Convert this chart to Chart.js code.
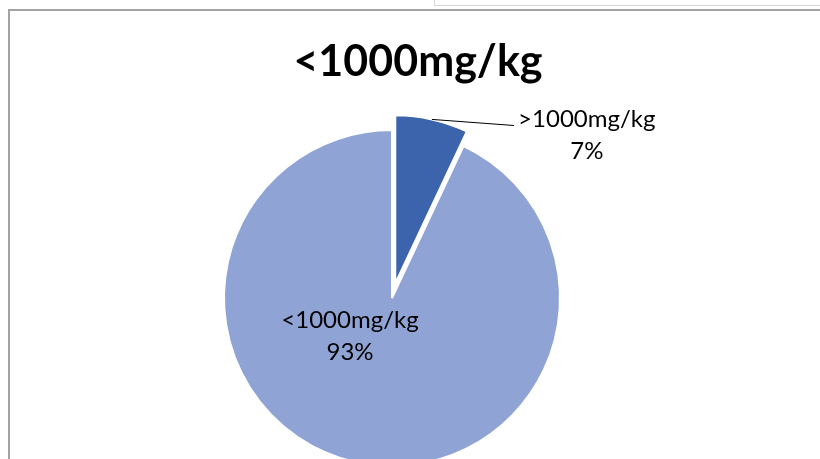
<!DOCTYPE html>
<html>
<head>
<meta charset="utf-8">
<script src="https://cdn.jsdelivr.net/npm/chart.js@4.4.1/dist/chart.umd.min.js"></script>
<style>
  html, body { margin: 0; padding: 0; background: #fff; width: 820px; height: 459px; overflow: hidden; }
  #sheetTab { position: absolute; left: 434px; top: -6px; width: 500px; height: 10px; border: 1px solid #d6d6d6; background: #fff; }
  #frame { position: absolute; left: 8px; top: 9px; width: 900px; height: 600px; border-left: 2px solid #a3a3a3; border-top: 2px solid #a3a3a3; }
  #holder { position: absolute; left: 0; top: 0; width: 820px; height: 520px; }
</style>
</head>
<body>
<div id="sheetTab"></div>
<div id="frame"></div>
<div id="holder"><canvas id="pie" width="820" height="520"></canvas></div>
<script>
// Share of samples by concentration class
const categories = ['>1000mg/kg', '<1000mg/kg'];
const shares = [7, 93];
const chartTitle = '<1000mg/kg';

const FONT = 'Lato, "Open Sans", sans-serif';

// Explodes selected slices and writes the heading and slice labels
const pieAnnotations = {
  id: 'pieAnnotations',
  afterDatasetsUpdate(chart, args, opts) {
    const arcs = chart.getDatasetMeta(0).data;
    arcs.forEach((arc, i) => {
      const d = (opts.explode || [])[i] || 0;
      if (!d) return;
      const mid = (arc.startAngle + arc.endAngle) / 2;
      arc.x += Math.cos(mid) * d;
      arc.y += Math.sin(mid) * d;
    });
  },
  afterDraw(chart, args, opts) {
    const ctx = chart.ctx;
    const arcs = chart.getDatasetMeta(0).data;
    const values = chart.data.datasets[0].data;
    const area = chart.chartArea;
    ctx.save();
    ctx.textAlign = 'center';
    ctx.textBaseline = 'middle';

    ctx.fillStyle = '#000';
    ctx.font = opts.titleFont;
    ctx.fillText(opts.title, (area.left + area.right) / 2 + opts.titleShift, opts.titleY);

    ctx.font = opts.labelFont;
    ctx.fillStyle = '#000';
    arcs.forEach((arc, i) => {
      const p = opts.placement[i];
      const r = arc.outerRadius;
      const cx = arc.x + p.dx * r;
      const cy = arc.y + p.dy * r;
      const lines = [chart.data.labels[i], values[i] + '%'];
      const lh = opts.lineHeight;
      lines.forEach((t, k) => ctx.fillText(t, cx, cy + (k - (lines.length - 1) / 2) * lh));
      if (p.leader) {
        const mid = (arc.startAngle + arc.endAngle) / 2;
        const sx = arc.x + Math.cos(mid) * r;
        const sy = arc.y + Math.sin(mid) * r;
        const w = ctx.measureText(lines[0]).width;
        const ex = cx - w / 2 - 4;
        const ey = cy - lh / 2 + 6;
        ctx.beginPath();
        ctx.moveTo(sx, sy);
        ctx.lineTo(ex, ey);
        ctx.strokeStyle = '#000';
        ctx.lineWidth = 1;
        ctx.stroke();
      }
    });
    ctx.restore();
  }
};

new Chart(document.getElementById('pie'), {
  type: 'pie',
  data: {
    labels: categories,
    datasets: [{
      data: shares,
      backgroundColor: ['#3b64ad', '#8fa3d4'],
      borderColor: '#ffffff',
      borderWidth: 2,
      radius: 168
    }]
  },
  options: {
    responsive: false,
    animation: false,
    events: [],
    layout: { padding: { left: 0, right: 36, top: 96, bottom: 20 } },
    plugins: {
      legend: { display: false },
      title: { display: false },
      tooltip: { enabled: false },
      pieAnnotations: {
        title: chartTitle,
        titleFont: 'bold 43px ' + FONT,
        titleShift: 26,
        titleY: 62,
        labelFont: '24px ' + FONT,
        lineHeight: 32,
        explode: [15, 0],
        placement: [
          { dx: 1.14, dy: -0.88, leader: true },
          { dx: -0.25, dy: 0.226 }
        ]
      }
    }
  },
  plugins: [pieAnnotations]
});
</script>
</body>
</html>
